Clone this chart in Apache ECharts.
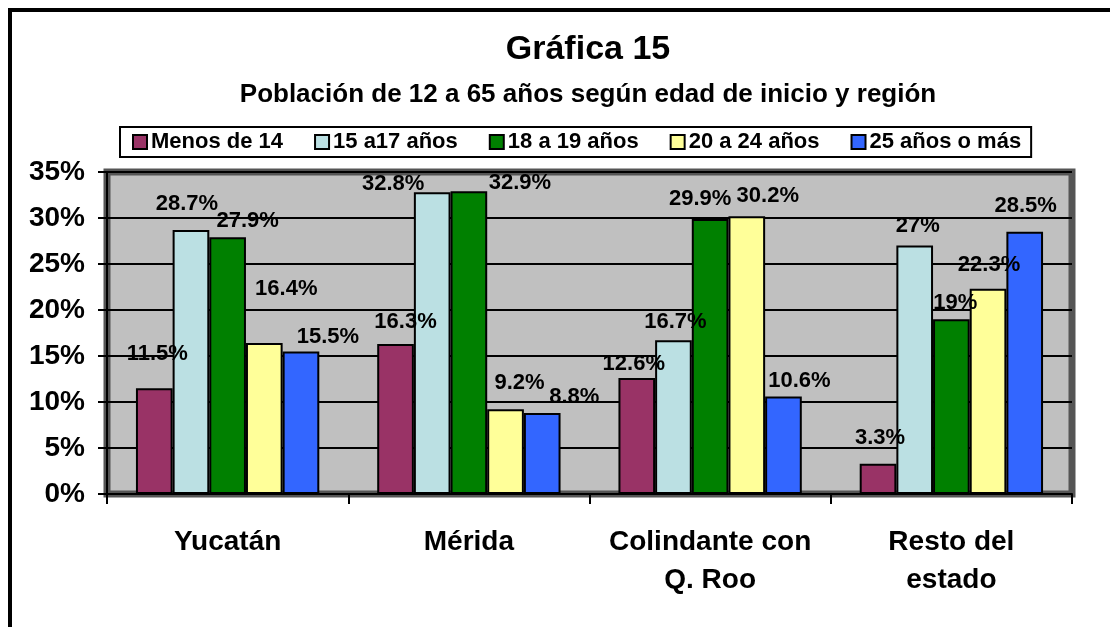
<!DOCTYPE html>
<html>
<head>
<meta charset="utf-8">
<script src="https://cdn.jsdelivr.net/npm/echarts@6/dist/echarts.min.js"></script>
<style>
  html, body { margin: 0; padding: 0; background: #fff; }
  #chart { width: 1110px; height: 627px; }
</style>
</head>
<body>
<div id="chart"></div>
<script>
// categories and series (percent)
const regions = ['Yucatán', 'Mérida', 'Colindante con\nQ. Roo', 'Resto del\nestado']
const ageGroups = ['Menos de 14', '15 a17 años', '18 a 19 años', '20 a 24 años', '25 años o más']
const menos14 = [11.5, 16.3, 12.6, 3.3]
const de15a17 = [28.7, 32.8, 16.7, 27]
const de18a19 = [27.9, 32.9, 29.9, 19]
const de20a24 = [16.4, 9.2, 30.2, 22.3]
const de25mas = [15.5, 8.8, 10.6, 28.5]
const yTicks = [0, 5, 10, 15, 20, 25, 30, 35]

// styling only: colours and label nudges copied from the original layout
const colors = ['#993366', '#BBE0E3', '#008000', '#FFFF99', '#3366FF']
const labelNudge = [
  [[3, -18], [10, -6], [-3, 2], [2, -10]],
  [[-4, -10], [-39, 8], [2, -2], [3, -4]],
  [[20, 0], [51, 8], [-10, -4], [4, 0]],
  [[22, -38], [14, -10], [21, -4], [1, -8]],
  [[27, 2], [32, 0], [16, 0], [1, -10]]
]
const font = '"Liberation Sans", Arial, sans-serif'

const seriesValues = [menos14, de15a17, de18a19, de20a24, de25mas]

const chart = echarts.init(document.getElementById('chart'))

const series = ageGroups.map((name, i) => ({
  name: name,
  type: 'bar',
  barGap: '0%',
  barCategoryGap: '24%',
  itemStyle: { color: colors[i], borderColor: '#000', borderWidth: 2 },
  label: {
    show: true,
    position: 'top',
    distance: 5,
    color: '#000',
    fontFamily: font,
    fontWeight: 'bold',
    fontSize: 22,
    formatter: p => p.value + '%'
  },
  data: seriesValues[i].map((v, j) => ({ value: v, label: { offset: labelNudge[i][j] } }))
}))

chart.setOption({
  animation: false,
  color: colors,
  graphic: [
    {
      type: 'rect', silent: true, z: 100,
      shape: { x: 10, y: 10, width: 1140, height: 660 },
      style: { fill: 'none', stroke: '#000', lineWidth: 4 }
    },
    {
      type: 'text', x: 588, y: 50,
      style: { text: 'Gráfica 15', fontFamily: font, fontWeight: 'bold', fontSize: 34, fill: '#000', align: 'center', verticalAlign: 'middle' }
    },
    {
      type: 'text', x: 588, y: 95,
      style: { text: 'Población de 12 a 65 años según edad de inicio y región', fontFamily: font, fontWeight: 'bold', fontSize: 26, fill: '#000', align: 'center', verticalAlign: 'middle' }
    }
  ],
  legend: {
    data: ageGroups,
    left: 120,
    top: 127,
    itemWidth: 14,
    itemHeight: 14,
    itemGap: 31,
    padding: [4, 10, 4, 12],
    borderColor: '#000',
    borderWidth: 2,
    backgroundColor: '#fff',
    icon: 'rect',
    textStyle: { color: '#000', fontFamily: font, fontWeight: 'bold', fontSize: 22, padding: [0, 0, 0, -1] }
  },
  grid: {
    left: 107, right: 38, top: 172, bottom: 133,
    show: true,
    backgroundColor: '#C0C0C0',
    borderColor: '#555',
    borderWidth: 7
  },
  xAxis: {
    type: 'category',
    data: regions,
    axisLine: { lineStyle: { color: '#000', width: 2 } },
    axisTick: { show: true, interval: 0, length: 10, lineStyle: { color: '#000', width: 2 } },
    axisLabel: {
      interval: 0,
      color: '#000', fontFamily: font, fontWeight: 'bold', fontSize: 28,
      lineHeight: 38, margin: 29
    }
  },
  yAxis: {
    type: 'value',
    min: yTicks[0],
    max: yTicks[yTicks.length - 1],
    interval: yTicks[1] - yTicks[0],
    axisLine: { show: true, lineStyle: { color: '#000', width: 2 } },
    axisTick: { show: true, length: 9, lineStyle: { color: '#000', width: 2 } },
    axisLabel: {
      color: '#000', fontFamily: font, fontWeight: 'bold', fontSize: 28,
      margin: 22, formatter: '{value}%'
    },
    splitLine: { lineStyle: { color: '#000', width: 2 } }
  },
  series: series
})
</script>
</body>
</html>
